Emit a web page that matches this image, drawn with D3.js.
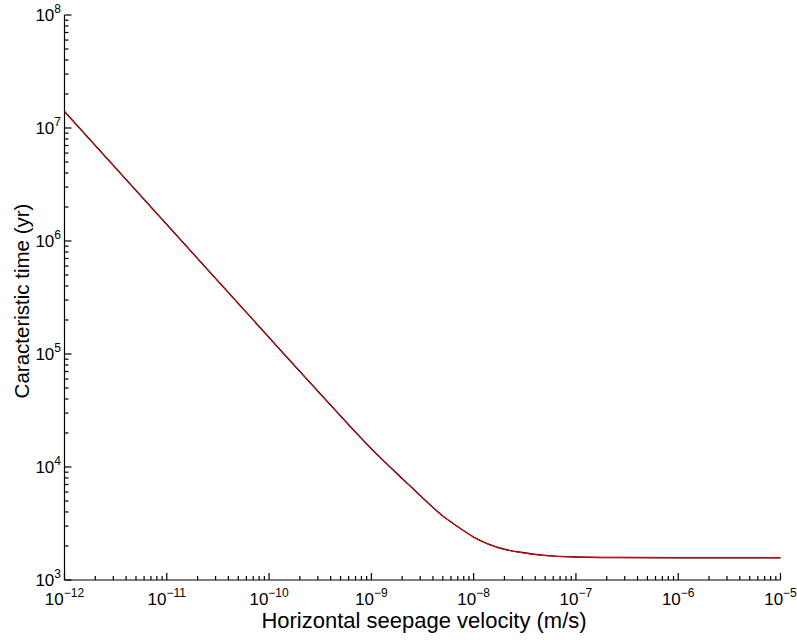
<!DOCTYPE html>
<html><head><meta charset="utf-8">
<script src="https://cdn.jsdelivr.net/npm/d3@7"></script>
<style>body{margin:0;background:#fff}svg{display:block}</style>
</head><body>
<script>
// velocity (m/s)
const velocity = [1e-12, 1e-11, 1e-10, 3.16e-10, 1e-9, 2e-9, 3e-9, 5e-9, 7e-9, 1e-8, 2e-8, 3e-8, 5e-8, 1e-7, 3e-7, 1e-6, 1e-5];
// characteristic time (yr)
const timeBlack = [1.40e7, 1.40e6, 1.40e5, 4.45e4, 1.45e4, 7.9e3, 5600, 3680, 2960, 2400, 1870, 1750, 1650, 1598, 1580, 1575, 1575];
const timeRed   = [1.40e7, 1.40e6, 1.40e5, 4.45e4, 1.45e4, 7.9e3, 5600, 3680, 2960, 2400, 1860, 1740, 1640, 1595, 1578, 1575, 1575];
const xTickExps = [-12, -11, -10, -9, -8, -7, -6, -5];
const yTickExps = [3, 4, 5, 6, 7, 8];
const xTitle = "Horizontal seepage velocity (m/s)";
const yTitle = "Caracteristic time (yr)";

const W = 797, H = 640;
const L = 64.5, R = 780.5, T = 15, B = 580;
const svg = d3.select("body").append("svg").attr("width", W).attr("height", H);
const font = "Liberation Sans, Arial, sans-serif";

const x = d3.scaleLog().domain([1e-12, 1e-5]).range([L, R]);
const y = d3.scaleLog().domain([1e3, 1e8]).range([B, T]);

// minor ticks
const xMinor = [], yMinor = [];
xTickExps.slice(0, -1).forEach(e => { for (let k = 2; k <= 9; k++) xMinor.push(k * Math.pow(10, e)); });
yTickExps.slice(0, -1).forEach(e => { for (let k = 2; k <= 9; k++) yMinor.push(k * Math.pow(10, e)); });

const g = svg.append("g").attr("stroke", "#000").attr("stroke-width", 1.2).attr("fill", "none");
g.append("line").attr("x1", L).attr("x2", R).attr("y1", B).attr("y2", B);
g.append("line").attr("x1", L).attr("x2", L).attr("y1", T).attr("y2", B);
xTickExps.forEach(e => { const px = x(Math.pow(10, e)); g.append("line").attr("x1", px).attr("x2", px).attr("y1", B).attr("y2", B - 7); });
xMinor.forEach(v => { const px = x(v); g.append("line").attr("x1", px).attr("x2", px).attr("y1", B).attr("y2", B - 4); });
yTickExps.forEach(e => { const py = y(Math.pow(10, e)); g.append("line").attr("x1", L).attr("x2", L + 7).attr("y1", py).attr("y2", py); });
yMinor.forEach(v => { const py = y(v); g.append("line").attr("x1", L).attr("x2", L + 4).attr("y1", py).attr("y2", py); });

// tick labels
function expLabel(sel, e) {
  sel.append("tspan").text("10");
  sel.append("tspan").attr("dy", -8).attr("font-size", 12).text(e < 0 ? "\u2212" + (-e) : String(e));
}
xTickExps.forEach(e => {
  const t = svg.append("text").attr("x", x(Math.pow(10, e))).attr("y", 605)
    .attr("text-anchor", "middle").attr("font-family", font).attr("font-size", 17).attr("fill", "#000");
  expLabel(t, e);
});
yTickExps.forEach(e => {
  const t = svg.append("text").attr("x", 61).attr("y", y(Math.pow(10, e)) + 6)
    .attr("text-anchor", "end").attr("font-family", font).attr("font-size", 17).attr("fill", "#000");
  expLabel(t, e);
});

// titles
svg.append("text").attr("x", 424).attr("y", 628).attr("text-anchor", "middle")
  .attr("font-family", font).attr("font-size", 22).attr("fill", "#000").text(xTitle);
svg.append("text").attr("transform", "translate(29,301) rotate(-90)").attr("text-anchor", "middle")
  .attr("font-family", font).attr("font-size", 20.5).attr("fill", "#000").text(yTitle);

// curves
const line = d3.line().x(d => x(d[0])).y(d => y(d[1])).curve(d3.curveMonotoneX);
svg.append("path").datum(velocity.map((v, i) => [v, timeBlack[i]]))
  .attr("d", line).attr("fill", "none").attr("stroke", "#000").attr("stroke-width", 1.4);
svg.append("path").datum(velocity.map((v, i) => [v, timeRed[i]]))
  .attr("d", line).attr("fill", "none").attr("stroke", "#ff0000").attr("stroke-width", 1);
</script>
</body></html>
